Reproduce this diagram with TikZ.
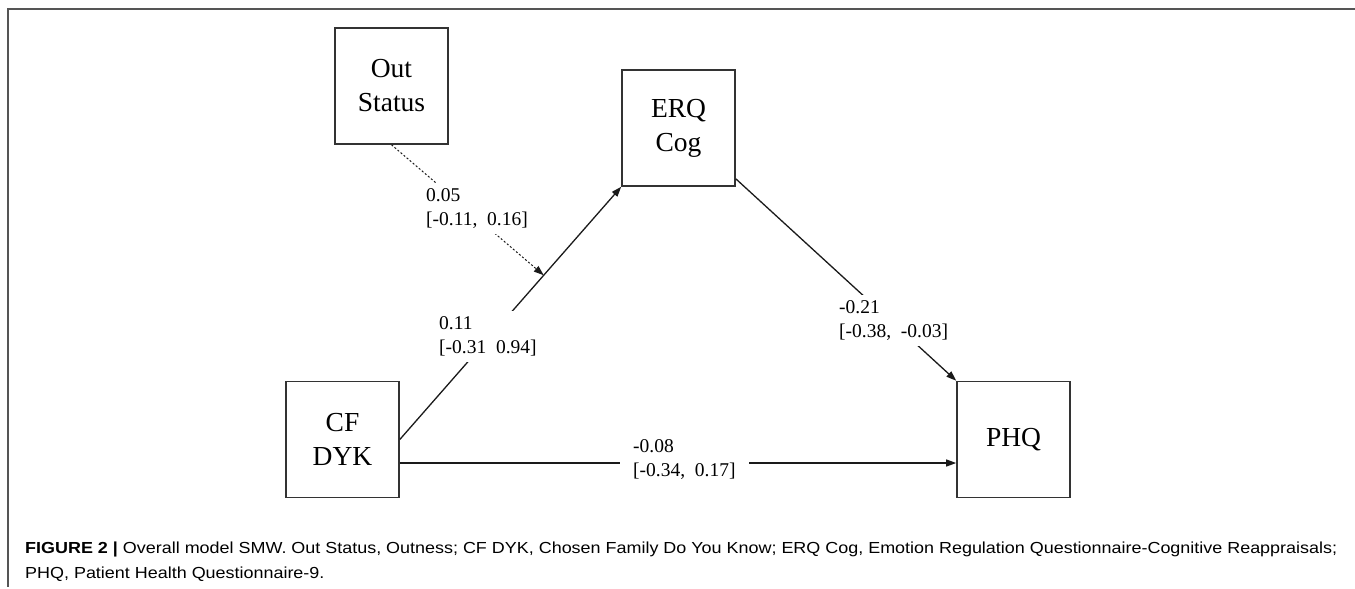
\documentclass[tikz,border=0pt]{standalone}
\usepackage{fontspec}
\setmainfont{Liberation Serif}
\newfontfamily\capfont{Liberation Sans}
\usetikzlibrary{arrows.meta,calc}
\definecolor{boxline}{HTML}{333333}
\definecolor{frameline}{HTML}{555555}
\definecolor{captext}{HTML}{231F20}
\definecolor{linecol}{HTML}{1A1A1A}
\newsavebox\caplineone
\newsavebox\caplinetwo
\newlength\capwidthone
\begin{document}
\sbox\caplineone{\capfont\fontsize{16}{19}\selectfont\textbf{FIGURE 2 |} Overall model SMW. Out Status, Outness; CF DYK, Chosen Family Do You Know; ERQ Cog, Emotion Regulation Questionnaire-Cognitive Reappraisals;}%
\sbox\caplinetwo{\capfont\fontsize{16}{19}\selectfont PHQ, Patient Health Questionnaire-9.}%
\setlength\capwidthone{\wd\caplineone}%
\pgfmathsetmacro\capsx{1312/\capwidthone}%
\begin{tikzpicture}[x=1pt,y=-1pt,
  varbox/.style={draw=boxline,line width=1.6pt,minimum width=113pt,minimum height=116pt,
    inner sep=0pt,align=center,font=\fontsize{27.5}{34}\selectfont,text=black},
  coef/.style={fill=white,align=left,inner sep=6pt,font=\fontsize{19.5}{23.5}\selectfont,text=black},
  conn/.style={draw=linecol,line width=1.3pt,-{Triangle[length=10pt,width=7pt]}},
  dotconn/.style={conn,line width=1pt,dash pattern=on 2pt off 2pt}
]
\useasboundingbox (0,0) rectangle (1355,589);
% frame
\draw[frameline,line width=1.5pt] (1355,9) -- (8,9) -- (8,587);
% variables
\node[varbox] (out) at (391.5,86) {Out\\Status};
\node[varbox] (erq) at (678.5,128) {ERQ\\Cog};
\node[varbox] (cf) at (342.5,439.5) {CF\\DYK};
\node[varbox] (phq) at (1013.5,439.5) {PHQ};
% connectors
\draw[conn] (cf.east) -- coordinate[pos=0.65] (mid) (erq.south west);
\draw[conn] ([yshift=8pt]erq.south east) -- (phq.north west);
\draw[conn] ([yshift=-23.5pt]cf.east) -- ([yshift=-23.5pt]phq.west);
\draw[dotconn] (out.south) -- (mid);
% coefficients (anchored at the baseline of their last line)
\node[coef,anchor=base west] (lout) at (420,225) {0.05\\{[-0.11,\ \ 0.16]}};
\node[coef,anchor=base west] (lcf) at (433,353) {0.11\\{[-0.31\ \ 0.94]}};
\node[coef,anchor=base west] (lerq) at (833,337) {-0.21\\{[-0.38,\ \ -0.03]}};
\node[coef,anchor=base west,inner xsep=13pt] (ldir) at (620,476) {-0.08\\{[-0.34,\ \ 0.17]}};
% caption
\node[anchor=base west,inner sep=0pt,text=captext] (cap1) at (25,553) {\scalebox{\capsx}[1]{\usebox\caplineone}};
\node[anchor=base west,inner sep=0pt,text=captext] (cap2) at (25,578) {\scalebox{\capsx}[1]{\usebox\caplinetwo}};
\end{tikzpicture}
\end{document}
